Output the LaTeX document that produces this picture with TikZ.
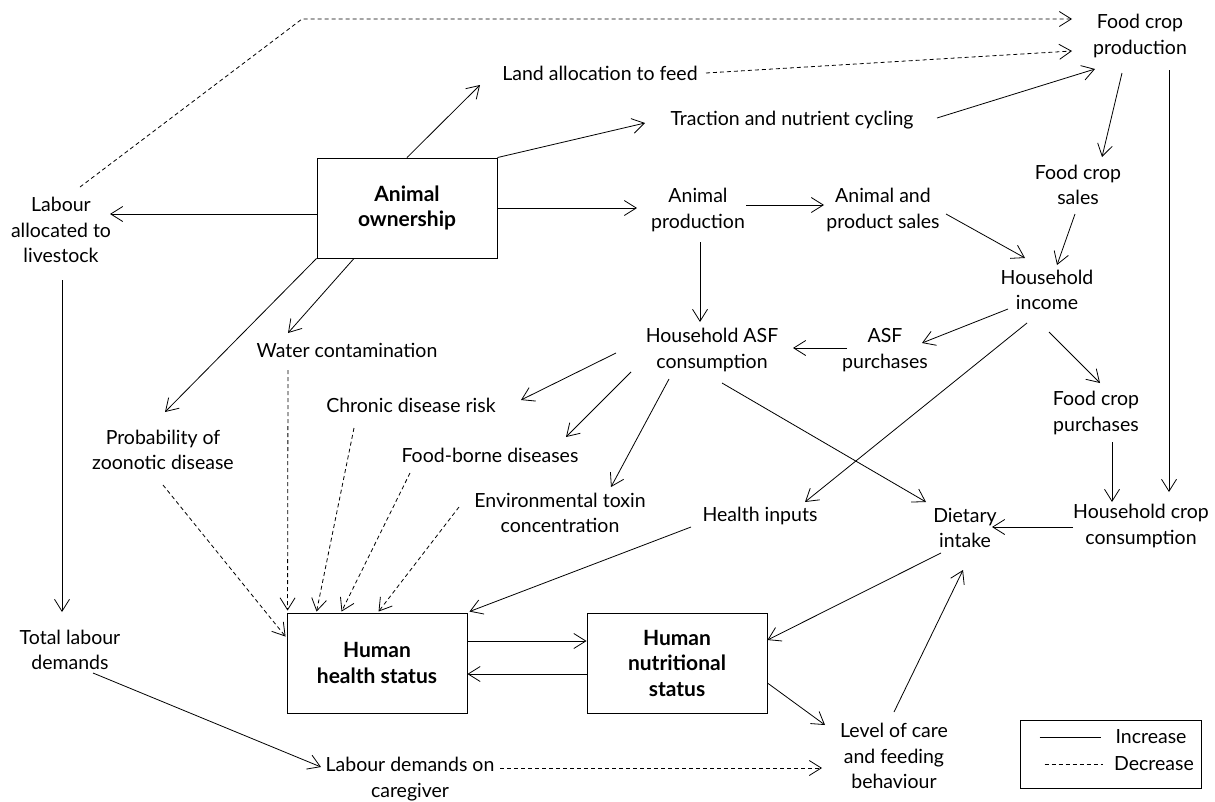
\documentclass[tikz,border=0pt]{standalone}
\usepackage{fontspec}
\setmainfont{Lato}
\usetikzlibrary{arrows.meta}

\begin{document}
\begin{tikzpicture}[x=1pt,y=-1pt,
  lbl/.style={align=center, inner sep=0pt, font=\fontsize{19.5}{25.5}\selectfont},
  boxnode/.style={draw, line width=0.9pt, minimum width=180pt, minimum height=100pt,
    inner sep=0pt, align=center, font=\fontsize{21}{25.5}\selectfont\bfseries},
  inc/.style={line width=0.8pt, -{Straight Barb[length=12pt,width=15pt,line width=0.8pt]}},
  dec/.style={inc, dash pattern=on 4pt off 3pt},
]
\useasboundingbox[fill=white] (0,0) rectangle (1215,801);

% ---- boxes ----
\node[boxnode] (own) at (407,208) {Animal\\ownership};
\node[boxnode] (hhs) at (377,663) {Human\\health status};
\node[boxnode] (nut) at (677,663) {Human\\nutritional\\status};

% ---- text nodes ----
\node[lbl] (fcp)     at (1140,36)  {Food crop\\production};
\node[lbl] (land)    at (600,73)   {Land allocation to feed};
\node[lbl] (trac)    at (792,120)  {Traction and nutrient cycling};
\node[lbl] (lab)     at (61,230)   {Labour\\allocated to\\livestock};
\node[lbl] (aprod)   at (698,210)  {Animal\\production};
\node[lbl] (asales)  at (883,210)  {Animal and\\product sales};
\node[lbl] (fcs)     at (1078,185) {Food crop\\sales};
\node[lbl] (inc)     at (1047,290) {Household\\income};
\node[lbl] (hasf)    at (712,350)  {Household ASF\\consumption};
\node[lbl] (asfp)    at (885,350)  {ASF\\purchases};
\node[lbl] (fcpur)   at (1096,413) {Food crop\\purchases};
\node[lbl] (hin)     at (760,516)  {Health inputs};
\node[lbl] (diet)    at (965,528)  {Dietary\\intake};
\node[lbl] (hcc)     at (1141,526) {Household crop\\consumption};
\node[lbl] (care)    at (894,756)  {Level of care\\and feeding\\behaviour};
\node[lbl] (ldc)     at (410,779)  {Labour demands on\\caregiver};
\node[lbl] (tld)     at (70,650)   {Total labour\\demands};
\node[lbl] (water)   at (347,350)  {Water contamination};
\node[lbl] (zoo)     at (163,450)  {Probability of\\zoonotic disease};
\node[lbl] (chronic) at (411,405)  {Chronic disease risk};
\node[lbl] (fbd)     at (490,455)  {Food-borne diseases};
\node[lbl] (env)     at (560,513)  {Environmental toxin\\concentration};

% ---- legend ----
\node[draw, line width=0.9pt, minimum width=181pt, minimum height=68pt, inner sep=0pt] (leg) at (1110.5,754) {};
\node[lbl] (legInc) at (1151,737) {Increase};
\node[lbl] (legDec) at (1154,764) {Decrease};
\draw[line width=0.8pt] ([shift={(20,-17)}]leg.west) -- ++(61,0);
\draw[line width=0.8pt, dash pattern=on 4pt off 3pt] ([shift={(25,10)}]leg.west) -- ++(58,0);

% ---- decreasing effects ----
\draw[dec] ([shift={(19,-43)}]lab.center) -- ([shift={(241,-211)}]lab.center) -- ([shift={(-68,-17)}]fcp.center);
\draw[dec] ([shift={(106,0)}]land.center) -- ([shift={(-68,15)}]fcp.center);
\draw[dec] ([shift={(90,-11)}]ldc.center) -- ([shift={(-72,12)}]care.center);
\draw[dec] ([shift={(-59,20)}]water.center) -- ([shift={(1,-2)}]hhs.north west);
\draw[dec] ([shift={(0,35)}]zoo.center) -- ([shift={(-1,24)}]hhs.north west);
\draw[dec] ([shift={(-57,23)}]chronic.center) -- ([shift={(30,-1)}]hhs.north west);
\draw[dec] ([shift={(-80,18)}]fbd.center) -- ([shift={(55,-1)}]hhs.north west);
\draw[dec] ([shift={(-101,-6)}]env.center) -- ([shift={(92,-1)}]hhs.north west);

% ---- increasing effects ----
\draw[inc] (own.north) -- ([shift={(-120,12)}]land.center);
\draw[inc] (own.north east) -- ([shift={(-147,3)}]trac.center);
\draw[inc] ([shift={(145,-2)}]trac.center) -- ([shift={(-45,33)}]fcp.center);
\draw[inc] ([shift={(0,6)}]own.west) -- ([shift={(49,-16)}]lab.center);
\draw[inc] (own.east) -- ([shift={(-61,-2)}]aprod.center);
\draw[inc] ([shift={(48,-5)}]aprod.center) -- ([shift={(-59,-5)}]asales.center);
\draw[inc] ([shift={(-18,37)}]fcp.center) -- ([shift={(24,-28)}]fcs.center);
\draw[inc] ([shift={(63,4)}]asales.center) -- ([shift={(-22,-32)}]inc.center);
\draw[inc] ([shift={(-3,29)}]fcs.center) -- ([shift={(10,-25)}]inc.center);
\draw[inc] ([shift={(29,34)}]fcp.center) -- ([shift={(28,-34)}]hcc.center);
\draw[inc] ([shift={(2,32)}]aprod.center) -- ([shift={(-12,-28)}]hasf.center);
\draw[inc] ([shift={(-38,-2)}]asfp.center) -- ([shift={(81,-2)}]hasf.center);
\draw[inc] ([shift={(-39,19)}]inc.center) -- ([shift={(37,-7)}]asfp.center);
\draw[inc] ([shift={(2,42)}]inc.center) -- ([shift={(4,-30)}]fcpur.center);
\draw[inc] ([shift={(16,29)}]fcpur.center) -- ([shift={(-29,-24)}]hcc.center);
\draw[inc] ([shift={(-20,33)}]inc.center) -- ([shift={(45,-14)}]hin.center);
\draw[inc] ([shift={(10,33)}]hasf.center) -- ([shift={(-39,-26)}]diet.center);
\draw[inc] ([shift={(-68,1)}]hcc.center) -- ([shift={(27,-1)}]diet.center);
\draw[inc] ([shift={(-24,25)}]diet.center) -- ([shift={(0,-23)}]nut.east);
\draw[inc] ([shift={(0,-22)}]hhs.east) -- ([shift={(0,-22)}]nut.west);
\draw[inc] ([shift={(0,11)}]nut.west) -- ([shift={(0,11)}]hhs.east);
\draw[inc] ([shift={(-69,11)}]hin.center) -- ([shift={(2,-1)}]hhs.north east);
\draw[inc] ([shift={(0,20)}]nut.east) -- ([shift={(-69,-31)}]care.center);
\draw[inc] ([shift={(0,-44)}]care.center) -- ([shift={(-2,42)}]diet.center);
\draw[inc] ([shift={(23,23)}]tld.center) -- ([shift={(-89,-12)}]ldc.center);
\draw[inc] ([shift={(1,50)}]lab.center) -- ([shift={(-8,-38)}]tld.center);
\draw[inc] ([shift={(-53,0)}]own.south) -- ([shift={(-59,-17)}]water.center);
\draw[inc] (own.south west) -- ([shift={(2,-38)}]zoo.center);
\draw[inc] ([shift={(-96,3)}]hasf.center) -- ([shift={(110,-5)}]chronic.center);
\draw[inc] ([shift={(-81,22)}]hasf.center) -- ([shift={(76,-18)}]fbd.center);
\draw[inc] ([shift={(-43,29)}]hasf.center) -- ([shift={(51,-26)}]env.center);
\end{tikzpicture}
\end{document}
